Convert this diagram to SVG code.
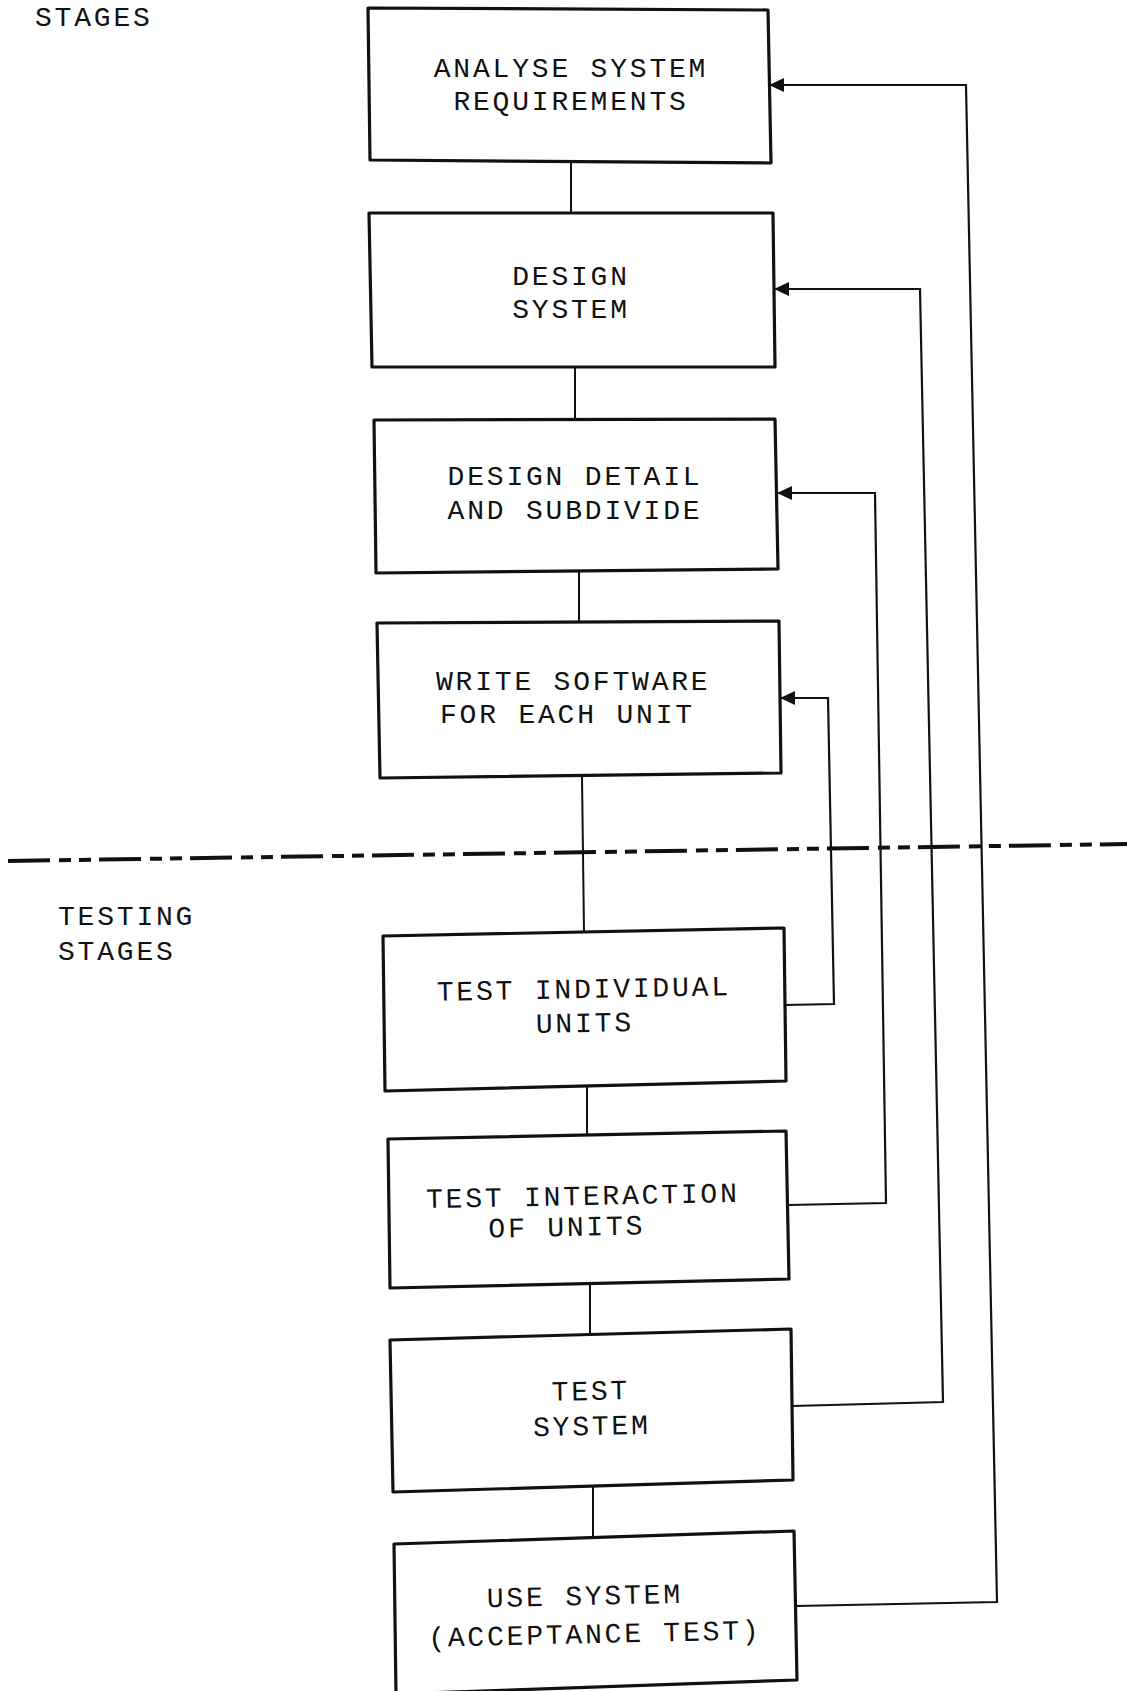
<svg xmlns="http://www.w3.org/2000/svg" width="1127" height="1691" viewBox="0 0 1127 1691">
<style>
.box{fill:#fff;stroke:#111;stroke-width:3.2;stroke-linejoin:round}
.t{font-family:"Liberation Mono","DejaVu Sans Mono",monospace;font-size:28px;letter-spacing:2.8px;fill:#111;text-anchor:middle}
.lbl{font-family:"Liberation Mono","DejaVu Sans Mono",monospace;font-size:28px;letter-spacing:2.8px;fill:#111}
.c{fill:none;stroke:#111;stroke-width:2}
.fb{fill:none;stroke:#111;stroke-width:2.2;stroke-linejoin:miter}
.dash{fill:none;stroke:#111;stroke-width:4;stroke-dasharray:42 9 12 8 12 8}
</style>
<defs>
<marker id="ah" markerUnits="userSpaceOnUse" markerWidth="16" markerHeight="14" refX="15" refY="7" orient="auto">
<path d="M0,0 L15,7 L0,14 Z" fill="#111"/>
</marker>
</defs>
<rect width="1127" height="1691" fill="#fff"/>
<g id="labels">
<text class="lbl" x="35" y="26">STAGES</text>
<text class="lbl" x="58" y="925">TESTING</text>
<text class="lbl" x="58" y="960">STAGES</text>
</g>
<path id="divider" class="dash" d="M8,861 L1127,844"/>
<g id="connectors">
<path class="c" d="M571,163 L571,213"/>
<path class="c" d="M575,367 L575,420"/>
<path class="c" d="M579,571 L579,622"/>
<path class="c" d="M582,777 L584,932"/>
<path class="c" d="M587,1087 L587,1135"/>
<path class="c" d="M590,1284 L590,1335"/>
<path class="c" d="M593,1487 L593,1538"/>
<path class="fb" d="M785,1005 L834,1004 L828,698 L780,698" marker-end="url(#ah)"/>
<path class="fb" d="M788,1205 L886,1203 L875,493 L777,493" marker-end="url(#ah)"/>
<path class="fb" d="M792,1406 L943,1402 L920,289 L774,289" marker-end="url(#ah)"/>
<path class="fb" d="M796,1606 L997,1602 L966,85 L769,85" marker-end="url(#ah)"/>
</g>
<g id="n1">
<polygon class="box" points="368,8 768,10 771,163 370,160"/>
<text class="t" x="571" y="77">ANALYSE SYSTEM</text>
<text class="t" x="571" y="110">REQUIREMENTS</text>
</g>
<g id="n2">
<polygon class="box" points="369,213 773,213 775,367 372,367"/>
<text class="t" x="571" y="285">DESIGN</text>
<text class="t" x="571" y="318">SYSTEM</text>
</g>
<g id="n3">
<polygon class="box" points="374,420 775,419 778,569 376,573"/>
<text class="t" x="575" y="485">DESIGN DETAIL</text>
<text class="t" x="575" y="519">AND SUBDIVIDE</text>
</g>
<g id="n4">
<polygon class="box" points="377,623 779,621 781,773 380,778"/>
<text class="lbl" x="436" y="690">WRITE SOFTWARE</text>
<text class="lbl" x="440" y="723">FOR EACH UNIT</text>
</g>
<g id="n5">
<polygon class="box" points="383,936 784,928 786,1081 385,1091"/>
<text class="t" x="584" y="998" transform="rotate(-1.1 584 998)">TEST INDIVIDUAL</text>
<text class="t" x="585" y="1032" transform="rotate(-1.1 585 1032)">UNITS</text>
</g>
<g id="n6">
<polygon class="box" points="388,1139 786,1131 789,1279 390,1288"/>
<text class="t" x="583" y="1205" transform="rotate(-1.1 583 1205)">TEST INTERACTION</text>
<text class="t" x="567" y="1236" transform="rotate(-1.1 567 1236)">OF UNITS</text>
</g>
<g id="n7">
<polygon class="box" points="390,1340 791,1329 793,1480 393,1492"/>
<text class="t" x="591" y="1400" transform="rotate(-1.2 591 1400)">TEST</text>
<text class="t" x="592" y="1435" transform="rotate(-1.2 592 1435)">SYSTEM</text>
</g>
<g id="n8">
<polygon class="box" points="394,1544 794,1531 797,1680 396,1694"/>
<text class="t" x="585" y="1605" transform="rotate(-1.3 585 1605)">USE SYSTEM</text>
<text class="t" x="595" y="1643" transform="rotate(-1.3 595 1643)">(ACCEPTANCE TEST)</text>
</g>
</svg>
